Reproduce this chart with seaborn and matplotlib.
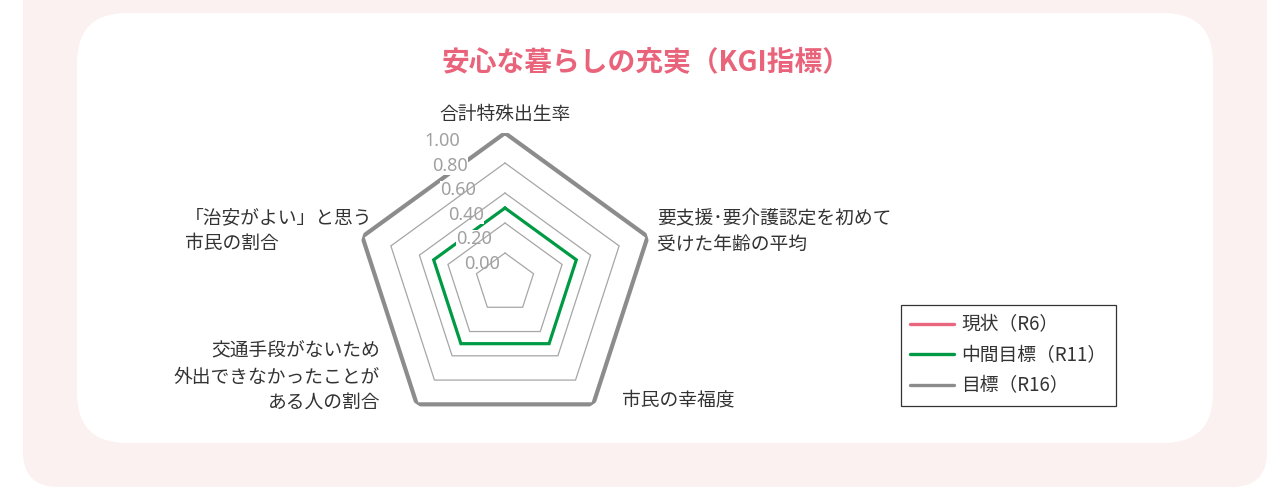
import numpy as np
import pandas as pd
import matplotlib.pyplot as plt
import seaborn as sns
from matplotlib.patches import FancyBboxPatch
from matplotlib.lines import Line2D

# データ
categories = ['合計特殊出生率', '要支援･要介護認定を初めて\n受けた年齢の平均', '市民の幸福度',
              '交通手段がないため\n外出できなかったことが\nある人の割合', '「治安がよい」と思う\n市民の割合']
current_r6 = [np.nan, np.nan, np.nan, np.nan, np.nan]
middle_r11 = [0.5, 0.5, 0.5, 0.5, 0.5]
target_r16 = [1.0, 1.0, 1.0, 1.0, 1.0]
ring_values = [0.2, 0.4, 0.6, 0.8]
tick_values = [1.00, 0.80, 0.60, 0.40, 0.20, 0.00]
series_names = ['現状（R6）', '中間目標（R11）', '目標（R16）']
series_colors = ['#E9667E', '#009A44', '#8C8C8C']

sns.set_theme(style='white')
plt.rcParams['font.family'] = ['Noto Sans CJK JP', 'DejaVu Sans']

W, H = 1275, 487
fig = plt.figure(figsize=(W / 100, H / 100), dpi=100)

# 背景（ピンクの枠と白いパネル）
bg = fig.add_axes([0, 0, 1, 1])
bg.set_xlim(0, W)
bg.set_ylim(H, 0)
bg.axis('off')
bg.add_patch(FancyBboxPatch((23, -60), 1244, 547, boxstyle='round,pad=0,rounding_size=35',
                            facecolor='#FCF1F1', edgecolor='none'))
bg.add_patch(FancyBboxPatch((77, 13), 1136, 430, boxstyle='round,pad=0,rounding_size=50',
                            facecolor='white', edgecolor='none'))
bg.text(646, 62, '安心な暮らしの充実（KGI指標）', ha='center', va='center',
        fontsize=20, fontweight='bold', color='#E9637B')

# レーダーチャート
cx, cy, rad = 505, 283, 150
ax = fig.add_axes([(cx - rad) / W, (H - cy - rad) / H, 2 * rad / W, 2 * rad / H], polar=True)
ax.set_theta_zero_location('N')
ax.set_theta_direction(-1)
ax.set_ylim(0, 1)
ax.grid(False)
ax.set_xticks([])
ax.set_yticks([])
ax.spines['polar'].set_visible(False)
ax.patch.set_alpha(0)

n = len(categories)
angles = np.linspace(0, 2 * np.pi, n, endpoint=False)
theta = np.append(angles, angles[0])

for rv in ring_values:
    ax.plot(theta, [rv] * (n + 1), color='#A6A6A6', lw=0.9, zorder=5,
            solid_joinstyle='miter')

rows = []
for name, vals in zip(series_names, [current_r6, middle_r11, target_r16]):
    for t, v in zip(theta, vals + [vals[0]]):
        rows.append({'series': name, 'theta': t, 'value': v})
df = pd.DataFrame(rows)

widths = {'中間目標（R11）': 2.3, '目標（R16）': 3.0}
for name, color in zip(series_names, series_colors):
    sub = df[df['series'] == name].dropna()
    if sub.empty:
        continue
    sns.lineplot(data=sub, x='theta', y='value', sort=False, estimator=None, ax=ax,
                 color=color, lw=widths[name], zorder=3, legend=False)
    ax.lines[-1].set_solid_joinstyle('miter')
ax.set_xlabel('')
ax.set_ylabel('')
ax.set_ylim(0, 1)

# 目盛りラベル
for i, tv in enumerate(tick_values):
    px, py = 442 + 8 * i, 141 + 24.6 * i
    ax.text(px / W, 1 - py / H, f'{tv:.2f}', transform=fig.transFigure, ha='center', va='center',
            fontsize=13, color='#A0A0A0', zorder=4, family=['Noto Sans', 'DejaVu Sans'],
            bbox=dict(facecolor='white', edgecolor='none', pad=0.3))

# 軸ラベル
label_pos = [(505, 114, 'center'), (657, 232, 'left'), (622, 400, 'left'),
             (380, 377, 'right'), (185, 231, 'left')]
for (px, py, ha), lab in zip(label_pos, categories):
    fig.text(px / W, 1 - py / H, lab, ha=ha, va='center', fontsize=13.5, color='#333333',
             linespacing=1.3, multialignment=ha)

# 凡例
handles = [Line2D([0], [0], color=c, lw=2.4) for c in series_colors]
leg = fig.legend(handles, series_names, loc='upper left', bbox_to_anchor=(901 / W, 1 - 305 / H),
                 frameon=True, fancybox=False, edgecolor='#333333', framealpha=1,
                 fontsize=13.5, handlelength=2.3, handletextpad=0.4, labelspacing=0.5,
                 borderpad=0.5, borderaxespad=0)
leg.get_frame().set_linewidth(0.9)
for t in leg.get_texts():
    t.set_color('#333333')

plt.savefig('out.png', dpi=100)
